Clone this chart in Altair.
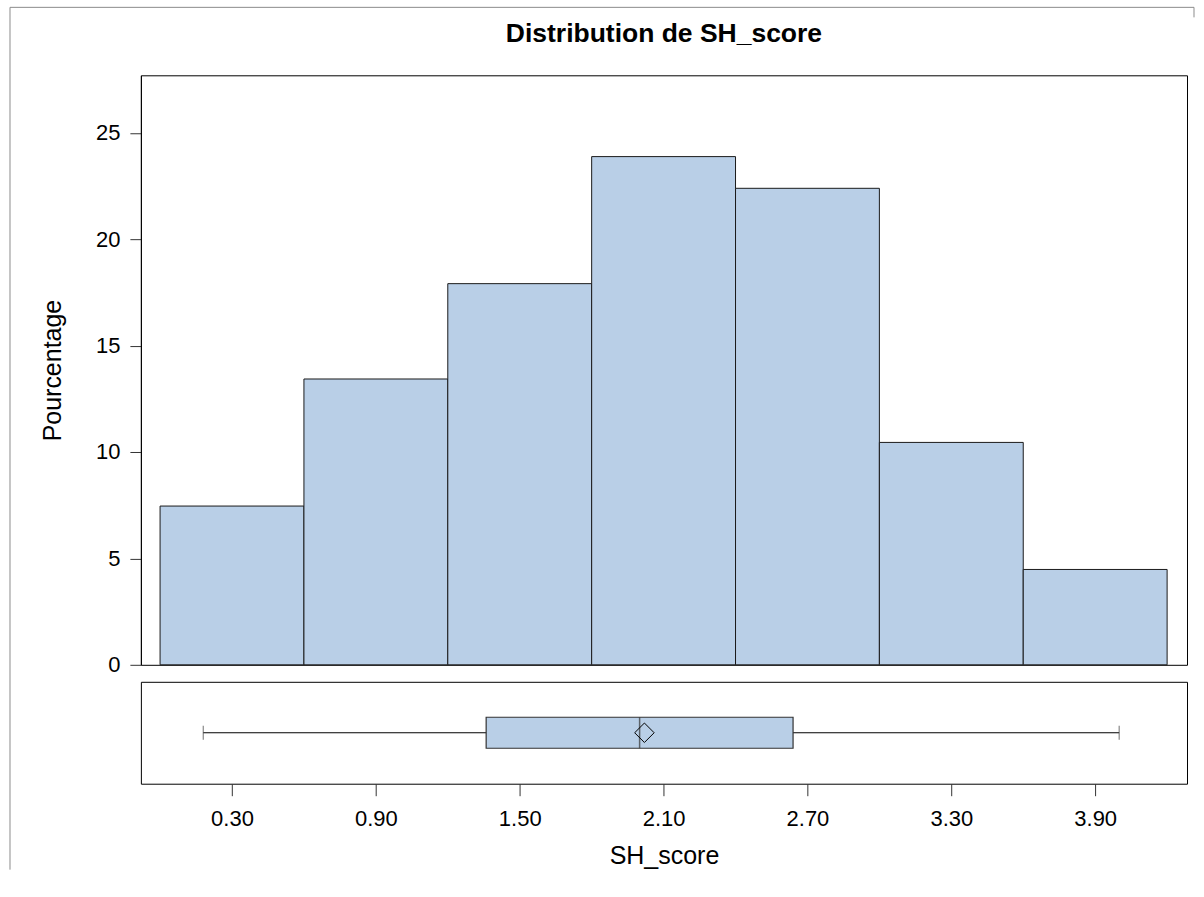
import altair as alt
import pandas as pd

# Histogram bins (SH_score) and percentages
bin_start = [0.0, 0.6, 1.2, 1.8, 2.4, 3.0, 3.6]
bin_end = [0.6, 1.2, 1.8, 2.4, 3.0, 3.6, 4.2]
percent = [7.46, 13.43, 17.91, 23.88, 22.39, 10.45, 4.48]

# Box plot statistics
box_min = [0.18]
box_q1 = [1.36]
box_median = [2.00]
box_q3 = [2.64]
box_max = [4.00]
box_mean = [2.02]

x_ticks = [0.30, 0.90, 1.50, 2.10, 2.70, 3.30, 3.90]
y_ticks = [0, 5, 10, 15, 20, 25]

FONT = "Liberation Sans"
FILL = "#B9CFE7"
X_DOMAIN = [-0.08, 4.283]

hist_df = pd.DataFrame({"start": bin_start, "end": bin_end, "pct": percent})
box_df = pd.DataFrame({
    "var": ["SH_score"],
    "min": box_min, "q1": box_q1, "median": box_median,
    "q3": box_q3, "max": box_max, "mean": box_mean,
})

xscale = alt.Scale(domain=X_DOMAIN, nice=False, zero=False)

hist = alt.Chart(hist_df).mark_bar(
    fill=FILL, stroke="#1a1a1a", strokeWidth=1
).encode(
    x=alt.X("start:Q", scale=xscale, axis=None),
    x2="end:Q",
    y=alt.Y("pct:Q", scale=alt.Scale(domain=[0, 27.7], nice=False),
            axis=alt.Axis(values=y_ticks, title="Pourcentage", grid=False,
                          tickSize=11, labelPadding=10, titlePadding=30,
                          labelFontSize=22, titleFontSize=25,
                          domainColor="black", tickColor="#333333",
                          labelColor="black", titleColor="black",
                          labelFont=FONT, titleFont=FONT,
                          titleFontWeight="normal")),
    y2=alt.datum(0),
).properties(
    width=1047, height=590,
    title=alt.TitleParams("Distribution de SH_score", font=FONT, fontSize=26.5,
                          fontWeight="bold", color="black", frame="group",
                          anchor="middle", offset=28),
)

ybox = alt.Y("var:N", axis=None, scale=alt.Scale(paddingInner=0, paddingOuter=0))

whisker = alt.Chart(box_df).mark_rule(color="black", strokeWidth=1).encode(
    x=alt.X("min:Q", scale=xscale,
            axis=alt.Axis(values=x_ticks, format=".2f", title="SH_score",
                          grid=False, domain=False, tickSize=12,
                          labelPadding=13, titlePadding=14,
                          labelFontSize=22, titleFontSize=25,
                          tickColor="#333333", labelColor="black",
                          titleColor="black", labelFont=FONT, titleFont=FONT,
                          titleFontWeight="normal")),
    x2="max:Q",
    y=ybox,
)
cap_lo = alt.Chart(box_df).mark_tick(color="#333333", size=14, thickness=1).encode(
    x=alt.X("min:Q", scale=xscale), y=ybox)
cap_hi = alt.Chart(box_df).mark_tick(color="#333333", size=14, thickness=1).encode(
    x=alt.X("max:Q", scale=xscale), y=ybox)
box = alt.Chart(box_df).mark_bar(fill=FILL, stroke="#333333", strokeWidth=1.2, size=31).encode(
    x=alt.X("q1:Q", scale=xscale), x2="q3:Q", y=ybox)
med = alt.Chart(box_df).mark_tick(color="#333333", size=31, thickness=1.5).encode(
    x=alt.X("median:Q", scale=xscale), y=ybox)
mean = alt.Chart(box_df).mark_point(shape="diamond", size=380, filled=False,
                                    color="black", strokeWidth=1, opacity=1).encode(
    x=alt.X("mean:Q", scale=xscale), y=ybox)

# light grey outer frame of the whole graph (decoration only)
frame_df = pd.DataFrame({"k": [0]})
frame_top = alt.Chart(frame_df).mark_rule(color="#8c8c8c", strokeWidth=1).encode(
    x=alt.value(-131), x2=alt.value(1054), y=alt.value(-675))
frame_left = alt.Chart(frame_df).mark_rule(color="#8c8c8c", strokeWidth=1).encode(
    x=alt.value(-131), y=alt.value(-675), y2=alt.value(188))
frame_right = alt.Chart(frame_df).mark_rule(color="#8c8c8c", strokeWidth=1).encode(
    x=alt.value(1054), y=alt.value(-675), y2=alt.value(-665))

boxpanel = alt.layer(whisker, cap_lo, cap_hi, box, med, mean,
                     frame_top, frame_left, frame_right).properties(
    width=1047, height=102)

chart = alt.vconcat(hist, boxpanel, spacing=17, bounds="flush").properties(
    padding={"left": 9, "top": 6, "right": 9, "bottom": 5},
    background="white",
).configure_view(
    stroke="black", strokeWidth=1
)

chart.save("out.html", embed_options={"renderer": "svg", "actions": False})
